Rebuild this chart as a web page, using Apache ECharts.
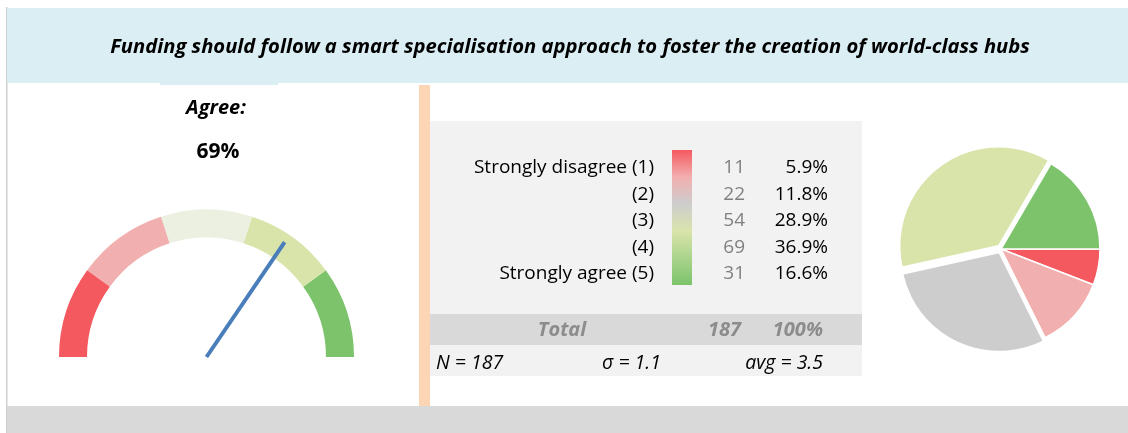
<!DOCTYPE html>
<html>
<head>
<meta charset="utf-8">
<script src="https://cdn.jsdelivr.net/npm/echarts@6/dist/echarts.min.js"></script>
<style>
  html, body { margin: 0; padding: 0; background: #ffffff; }
  #chart { width: 1128px; height: 433px; }
</style>
</head>
<body>
<div id="chart"></div>
<script>
// Survey statement and answer distribution
const titleText = 'Funding should follow a smart specialisation approach to foster the creation of world-class hubs';
const scaleLabels = ['Strongly disagree (1)', '(2)', '(3)', '(4)', 'Strongly agree (5)'];
const counts = [11, 22, 54, 69, 31];
const scaleColors = ['#F4595F', '#F2AFAF', '#CDCDCD', '#D9E4AB', '#7CC36C'];
const gaugeBands = ['#F4595F', '#F2AFAF', '#EBF0E0', '#D9E4AB', '#7CC36C'];
const agreeShare = 69;
const sampleSize = 187;
const sigma = 1.1;
const average = 3.5;

const total = counts.reduce((a, b) => a + b, 0);
const FONT = '"Open Sans", "Noto Sans", sans-serif';

function txt(text, x, y, opts) {
  return {
    type: 'text', x: x, y: y, z: 10, silent: true,
    style: Object.assign({
      text: text, align: 'left', verticalAlign: 'middle',
      fontFamily: FONT, fontSize: 19, fill: '#000000'
    }, opts || {})
  };
}
function box(x, y, w, h, fill) {
  return { type: 'rect', z: 0, silent: true, shape: { x: x, y: y, width: w, height: h }, style: { fill: fill } };
}

const rowY0 = 168, rowStep = 26.5;
const graphics = [
  box(6, 7, 1.5, 426, '#D0D0D0'),
  box(7, 8, 1121, 75, '#DBEEF4'),
  box(160, 83, 118, 2, '#DBEEF4'),
  box(7, 406, 1121, 27, '#D9D9D9'),
  box(419, 85, 11, 321, '#FCD5B4'),
  box(430, 121, 432, 255, '#F2F2F2'),
  box(430, 314, 432, 31, '#D9D9D9'),
  {
    type: 'rect', z: 1, silent: true,
    shape: { x: 672, y: 150, width: 20, height: 135 },
    style: {
      fill: new echarts.graphic.LinearGradient(0, 0, 0, 1, [
        { offset: 0, color: scaleColors[0] },
        { offset: 0.2, color: scaleColors[1] },
        { offset: 0.4, color: scaleColors[2] },
        { offset: 0.6, color: scaleColors[3] },
        { offset: 1, color: scaleColors[4] }
      ])
    }
  },
  txt(titleText, 570, 47, { align: 'center', fontSize: 20.2, fontWeight: 'bold', fontStyle: 'italic' }),
  txt('Agree:', 216, 108, { align: 'center', fontSize: 20, fontWeight: 'bold', fontStyle: 'italic' }),
  txt(agreeShare + '%', 218, 152, { align: 'center', fontSize: 21, fontWeight: 'bold' })
];

scaleLabels.forEach((label, i) => {
  const y = rowY0 + i * rowStep;
  graphics.push(txt(label, 654, y, { align: 'right' }));
  graphics.push(txt(String(counts[i]), 745, y, { align: 'right', fill: '#808080' }));
  graphics.push(txt((counts[i] / total * 100).toFixed(1) + '%', 828, y, { align: 'right' }));
});

const totalStyle = { fontSize: 20, fontWeight: 'bold', fontStyle: 'italic', fill: '#8C8C8C' };
graphics.push(txt('Total', 562, 330, Object.assign({ align: 'center' }, totalStyle)));
graphics.push(txt(String(total), 741, 330, Object.assign({ align: 'right' }, totalStyle)));
graphics.push(txt('100%', 823, 330, Object.assign({ align: 'right' }, totalStyle)));
graphics.push(txt('N = ' + sampleSize, 436, 363, { fontStyle: 'italic', fontSize: 19.5 }));
graphics.push(txt('\u03C3 = ' + sigma.toFixed(1), 602, 363, { fontStyle: 'italic', fontSize: 19.5 }));
graphics.push(txt('avg = ' + average.toFixed(1), 823, 363, { align: 'right', fontStyle: 'italic', fontSize: 19.5 }));

const chart = echarts.init(document.getElementById('chart'), null, { renderer: 'canvas' });
chart.setOption({
  animation: false,
  graphic: { elements: graphics },
  series: [
    {
      type: 'gauge',
      z: 3,
      center: [206.5, 357],
      radius: 147.5,
      startAngle: 180,
      endAngle: 0,
      min: 0,
      max: 100,
      silent: true,
      axisLine: { lineStyle: { width: 28, color: gaugeBands.map((c, i) => [(i + 1) / gaugeBands.length, c]) } },
      splitLine: { show: false },
      axisTick: { show: false },
      axisLabel: { show: false },
      pointer: { icon: 'rect', length: 139, width: 4, itemStyle: { color: '#4A7EBB' } },
      anchor: { show: false },
      title: { show: false },
      detail: { show: false },
      data: [{ value: agreeShare }]
    },
    {
      type: 'pie',
      z: 3,
      center: [1001, 249],
      radius: 99,
      startAngle: 0,
      clockwise: true,
      silent: true,
      selectedMode: 'multiple',
      selectedOffset: 4,
      label: { show: false },
      labelLine: { show: false },
      itemStyle: { borderColor: '#ffffff', borderWidth: 1.5 },
      data: counts.map((v, i) => ({
        value: v,
        name: scaleLabels[i],
        selected: i === 2 || i === 3,
        itemStyle: { color: scaleColors[i] }
      }))
    }
  ]
});
</script>
</body>
</html>
